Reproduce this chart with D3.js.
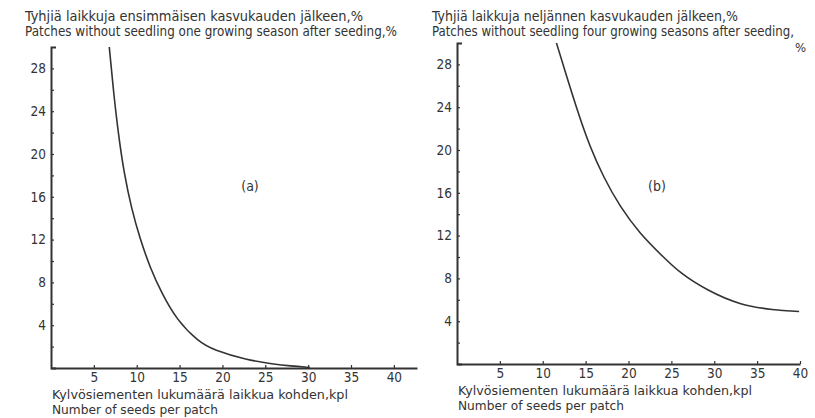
<!DOCTYPE html>
<html>
<head>
<meta charset="utf-8">
<script src="https://cdn.jsdelivr.net/npm/d3@7"></script>
<style>
  body { margin: 0; background: #fff; }
  svg text { font-family: "DejaVu Sans Condensed", "DejaVu Sans", sans-serif; fill: #333; }
</style>
</head>
<body>
<svg id="chart" width="815" height="418"></svg>
<script>
// panel (a): one growing season after seeding
const seedsA = [6.8, 7.27, 7.85, 8.52, 9.42, 10.38, 11.55, 12.92, 14.67, 17.19, 18.94, 22.83, 25.94, 27.9, 30.2];
const emptyA = [30, 26.0, 21.9, 18.2, 14.8, 12.1, 9.4, 6.98, 4.49, 2.46, 1.68, 0.75, 0.37, 0.19, 0.05];

// panel (b): four growing seasons after seeding
const seedsB = [11.6, 12.8, 14.15, 15.5, 17.06, 19.0, 21.3, 24.06, 26.0, 29.1, 33.0, 36.9, 39.9];
const emptyB = [30, 26.85, 23.4, 20.3, 17.5, 14.7, 12.2, 10.0, 8.5, 6.9, 5.5, 5.05, 4.9];

const xTicks = [5, 10, 15, 20, 25, 30, 35, 40];
const yTicks = [2, 4, 6, 8, 10, 12, 14, 16, 18, 20, 22, 24, 26, 28];
const yLabels = [4, 8, 12, 16, 20, 24, 28];

const ink = '#333';
const font = '"DejaVu Sans Condensed", "DejaVu Sans", sans-serif';
const svg = d3.select('#chart');

const panels = [
    {
        seeds: seedsA, empty: emptyA,
        xDomain: [0, 42.7], xRange: [51, 417], yRange: [368, 47],
        title: ['Tyhjiä laikkuja ensimmäisen kasvukauden jälkeen,%',
                'Patches without seedling one growing season after seeding,%'],
        titleLen: [338, 372],
        titleX: 25, titleY: [21, 36], extraPct: false,
        xlabel: ['Kylvösiementen lukumäärä laikkua kohden,kpl', 'Number of seeds per patch'],
        xlabelLen: [296, 166],
        xlabelY: [399, 414], tag: '(a)', tagPos: [250, 191]
    },
    {
        seeds: seedsB, empty: emptyB,
        xDomain: [0, 40], xRange: [457, 800], yRange: [364, 43],
        title: ['Tyhjiä laikkuja neljännen kasvukauden jälkeen,%',
                'Patches without seedling four growing seasons after seeding,'],
        titleLen: [306, 362],
        titleX: 432, titleY: [21, 36], extraPct: true,
        xlabel: ['Kylvösiementen lukumäärä laikkua kohden,kpl', 'Number of seeds per patch'],
        xlabelLen: [294, 166],
        xlabelY: [395, 410], tag: '(b)', tagPos: [657, 191]
    }
];

panels.forEach(p => {
    const x = d3.scaleLinear().domain(p.xDomain).range(p.xRange);
    const y = d3.scaleLinear().domain([0, 30]).range(p.yRange);
    const g = svg.append('g');

    // x axis, ticks pointing up into the plot
    const xAxis = d3.axisBottom(x)
        .tickValues(xTicks)
        .tickSizeInner(-3)
        .tickSizeOuter(0)
        .tickPadding(4);

    const gx = g.append('g')
        .attr('transform', `translate(0,${y(0)})`)
        .call(xAxis);
    gx.select('.domain').attr('stroke', ink).attr('stroke-width', 2);
    gx.selectAll('.tick line').attr('stroke', ink).attr('stroke-width', 1.2);
    gx.selectAll('text')
        .attr('fill', ink)
        .style('font-size', '13.5px')
        .style('font-family', font);

    // y axis, ticks pointing right, labels every 4
    const yAxis = d3.axisLeft(y)
        .tickValues(yTicks)
        .tickSizeInner(-3)
        .tickSizeOuter(-5)
        .tickPadding(5)
        .tickFormat(d => yLabels.includes(d) ? d : '');

    const gy = g.append('g')
        .attr('transform', `translate(${x(0)},0)`)
        .call(yAxis);
    gy.select('.domain').attr('stroke', ink).attr('stroke-width', 2).attr('fill', 'none');
    gy.selectAll('.tick line').attr('stroke', ink).attr('stroke-width', 1.2);
    gy.selectAll('text')
        .attr('fill', ink)
        .style('font-size', '13.5px')
        .style('font-family', font);

    // curve
    const pts = p.seeds.map((s, i) => ({ s: s, e: p.empty[i] }));
    const line = d3.line()
        .x(d => x(d.s))
        .y(d => y(d.e))
        .curve(d3.curveBasis);

    g.append('path')
        .datum(pts)
        .attr('fill', 'none')
        .attr('stroke', ink)
        .attr('stroke-width', 1.6)
        .attr('d', line);

    // titles
    p.title.forEach((t, i) => {
        g.append('text')
            .attr('x', p.titleX)
            .attr('y', p.titleY[i])
            .attr('textLength', p.titleLen[i])
            .attr('lengthAdjust', 'spacingAndGlyphs')
            .style('font-size', '13.5px')
            .text(t);
    });
    if (p.extraPct) {
        g.append('text')
            .attr('x', 806)
            .attr('y', 52)
            .attr('text-anchor', 'end')
            .style('font-size', '13px')
            .text('%');
    }

    p.xlabel.forEach((t, i) => {
        g.append('text')
            .attr('x', x(0) + 1)
            .attr('y', p.xlabelY[i])
            .attr('textLength', p.xlabelLen[i])
            .attr('lengthAdjust', 'spacingAndGlyphs')
            .style('font-size', '12.5px')
            .text(t);
    });

    g.append('text')
        .attr('x', p.tagPos[0])
        .attr('y', p.tagPos[1])
        .attr('text-anchor', 'middle')
        .style('font-size', '14px')
        .text(p.tag);
});
</script>
</body>
</html>
